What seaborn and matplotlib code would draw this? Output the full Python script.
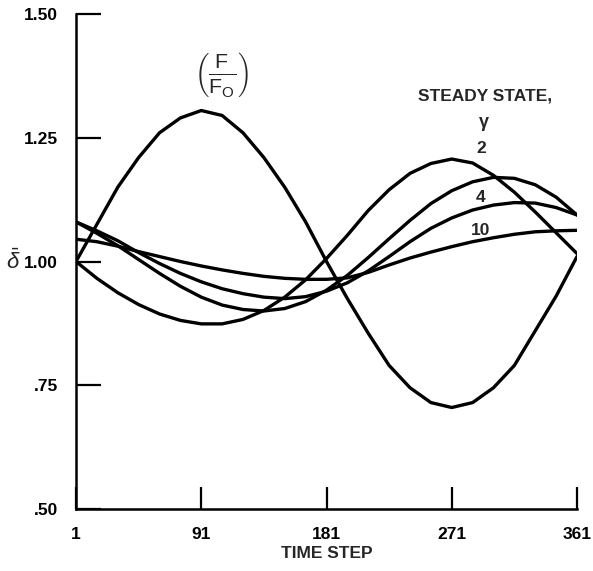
import matplotlib
matplotlib.use("Agg")
import matplotlib.pyplot as plt
import seaborn as sns
import pandas as pd

# ---- data ----
steps = [1, 16, 31, 46, 61, 76, 91, 106, 121, 136, 151, 166, 181,
         196, 211, 226, 241, 256, 271, 286, 301, 316, 331, 346, 361]

force_ratio = [1.00, 1.075, 1.15, 1.21, 1.26, 1.29, 1.305, 1.295, 1.26, 1.21, 1.15, 1.08, 1.00,
               0.925, 0.855, 0.79, 0.745, 0.715, 0.705, 0.715, 0.745, 0.79, 0.86, 0.93, 1.01]

gamma_2 = [1.00, 0.966, 0.937, 0.913, 0.894, 0.881, 0.874, 0.874, 0.883, 0.901, 0.928, 0.963, 1.006,
           1.053, 1.103, 1.145, 1.178, 1.198, 1.207, 1.199, 1.174, 1.14, 1.10, 1.058, 1.016]

gamma_3 = [1.08, 1.057, 1.032, 1.004, 0.976, 0.950, 0.928, 0.912, 0.903, 0.900, 0.905, 0.919, 0.942,
           0.972, 1.008, 1.046, 1.083, 1.117, 1.143, 1.161, 1.170, 1.168, 1.155, 1.130, 1.094]

gamma_4 = [1.08, 1.062, 1.042, 1.018, 0.996, 0.976, 0.959, 0.945, 0.935, 0.928, 0.925, 0.929, 0.940,
           0.957, 0.981, 1.010, 1.040, 1.067, 1.088, 1.104, 1.114, 1.119, 1.118, 1.109, 1.094]

gamma_10 = [1.045, 1.04, 1.031, 1.02, 1.01, 1.0, 0.991, 0.983, 0.976, 0.970, 0.966, 0.964, 0.964,
            0.967, 0.978, 0.993, 1.007, 1.019, 1.03, 1.04, 1.048, 1.055, 1.06, 1.062, 1.063]

x_ticks = [1, 91, 181, 271, 361]
y_ticks = [0.50, 0.75, 1.00, 1.25, 1.50]
y_tick_labels = [".50", ".75", "1.00", "1.25", "1.50"]
curve_labels = ["2", "4", "10"]

series = {"F/Fo": force_ratio, "2": gamma_2, "3": gamma_3, "4": gamma_4, "10": gamma_10}
df = pd.concat([pd.DataFrame({"step": steps, "delta": v, "curve": k}) for k, v in series.items()],
               ignore_index=True)

# ---- style ----
sns.set_theme(style="ticks")
plt.rcParams["font.family"] = ["Liberation Sans", "DejaVu Sans"]
plt.rcParams["mathtext.fontset"] = "custom"
plt.rcParams["mathtext.rm"] = "Liberation Sans"
plt.rcParams["mathtext.it"] = "Liberation Sans:italic"
plt.rcParams["mathtext.bf"] = "Liberation Sans:bold"

fig = plt.figure(figsize=(5.93, 5.71), dpi=100)
ax = fig.add_axes([76 / 593, 1 - 509 / 571, 501 / 593, 495 / 571])

sns.lineplot(data=df, x="step", y="delta", hue="curve", palette=["black"] * 5,
             estimator=None, sort=False, legend=False, linewidth=2.4, ax=ax)

ax.set_xlim(1, 361)
ax.set_ylim(0.5, 1.5)
ax.set_xticks(x_ticks)
ax.set_xticklabels([str(t) for t in x_ticks])
ax.set_yticks(y_ticks)
ax.set_yticklabels(y_tick_labels)
ax.tick_params(axis="x", direction="in", length=16, width=1.6, labelsize=12.5, pad=13, colors="black")
ax.tick_params(axis="y", direction="in", length=18, width=1.6, labelsize=12.5, pad=13, colors="black")
for lab in ax.get_xticklabels() + ax.get_yticklabels():
    lab.set_fontweight("bold")

sns.despine(ax=ax)
for side in ("left", "bottom"):
    ax.spines[side].set_linewidth(1.8)
    ax.spines[side].set_color("black")

ax.set_xlabel("TIME STEP", fontsize=12.5, fontweight="bold", labelpad=3)
ax.set_ylabel(r"$\bar{\delta}$", rotation=0, fontsize=16, va="center", ha="center")
ax.yaxis.set_label_coords(-0.125, 0.5)

ax.text(106, 1.378, r"$\left(\frac{\mathrm{F}}{\mathrm{F_O}}\right)$", fontsize=22,
        ha="center", va="center")
ax.text(295, 1.335, "STEADY STATE,", fontsize=12.5, fontweight="bold", ha="center", va="center")
ax.text(294, 1.28, "γ", fontsize=13, fontweight="bold", ha="center", va="center")
ax.text(292, 1.228, curve_labels[0], fontsize=12.5, fontweight="bold", ha="center", va="center")
ax.text(292, 1.129, curve_labels[1], fontsize=12.5, fontweight="bold", ha="center", va="center")
ax.text(292, 1.063, curve_labels[2], fontsize=12.5, fontweight="bold", ha="center", va="center")

fig.savefig("out.png", dpi=100, facecolor="white")
